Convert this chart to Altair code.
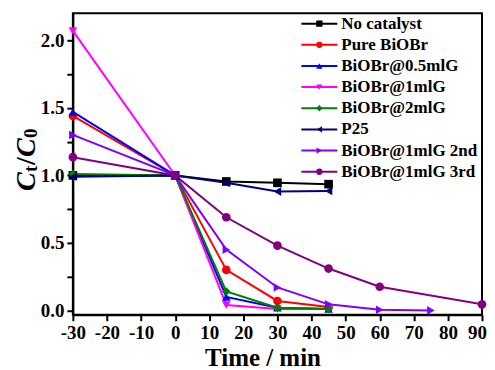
import altair as alt
import pandas as pd

series_names = ["No catalyst", "Pure BiOBr", "BiOBr@0.5mlG", "BiOBr@1mlG",
                "BiOBr@2mlG", "P25", "BiOBr@1mlG 2nd", "BiOBr@1mlG 3rd"]
series_colors = ["#000000", "#FF0000", "#0000FF", "#FF00FF",
                 "#008000", "#000080", "#8000FF", "#800080"]
series_shapes = ["square", "circle", "triangle-up", "triangle-down",
                 "diamond", "triangle-left", "triangle-right", "circle"]

t_short = [-30, 0, 15, 30, 45]
no_catalyst = [1.00, 1.00, 0.955, 0.945, 0.935]
pure_biobr = [1.44, 1.00, 0.30, 0.07, 0.025]
biobr_05 = [1.47, 1.00, 0.10, 0.02, 0.01]
biobr_1 = [2.07, 1.00, 0.04, 0.01, 0.01]
biobr_2 = [1.01, 1.00, 0.14, 0.02, 0.01]
p25 = [0.99, 1.00, 0.945, 0.88, 0.885]
t_2nd = [-30, 0, 15, 30, 45, 60, 75]
biobr_1_2nd = [1.30, 1.00, 0.45, 0.17, 0.045, 0.005, 0.0]
t_3rd = [-30, 0, 15, 30, 45, 60, 90]
biobr_1_3rd = [1.135, 1.00, 0.69, 0.48, 0.31, 0.175, 0.045]

x_ticks = [-30, -20, -10, 0, 10, 20, 30, 40, 50, 60, 70, 80, 90]
y_ticks = [0.0, 0.25, 0.5, 0.75, 1.0, 1.25, 1.5, 1.75, 2.0]

series_data = [
    (t_short, no_catalyst), (t_short, pure_biobr), (t_short, biobr_05),
    (t_short, biobr_1), (t_short, biobr_2), (t_short, p25),
    (t_2nd, biobr_1_2nd), (t_3rd, biobr_1_3rd),
]
rows = []
for k, (name, (ts, vs)) in enumerate(zip(series_names, series_data)):
    for t, v in zip(ts, vs):
        rows.append({"series": name, "order": k, "time": t, "ct": v})
df = pd.DataFrame(rows)

leg = pd.DataFrame({"series": series_names, "idx": list(range(len(series_names)))})

FONT = "Liberation Serif"
color_scale = alt.Scale(domain=series_names, range=series_colors)
shape_scale = alt.Scale(domain=series_names, range=series_shapes)

x_enc = alt.X("time:Q", scale=alt.Scale(domain=[-30, 90], nice=False),
              axis=alt.Axis(values=x_ticks, labelExpr="'' + datum.value",
                            labelOverlap=False, labelFlush=False, labelSeparation=0,
                            labelOffset={"condition": {"test": "datum.value == 90", "value": -5},
                                         "value": 0},
                            title="Time / min", titleFontSize=25, titleFont=FONT,
                            titleFontWeight="bold", titleX=190, titleY=51,
                            titleBaseline="alphabetic", grid=False))
y_enc = alt.Y("ct:Q", scale=alt.Scale(domain=[-0.032, 2.2], nice=False, zero=False),
              axis=alt.Axis(values=y_ticks, format=".1f", labelOverlap=False,
                            labelExpr="(datum.value * 2) % 1 == 0 ? datum.label : ''",
                            title=None, grid=False))

base = alt.Chart(df)
lines = base.mark_line(strokeWidth=2).encode(
    x=x_enc, y=y_enc,
    color=alt.Color("series:N", scale=color_scale, legend=None),
    detail="series:N",
    order="time:Q",
)
points = base.mark_point(filled=True, opacity=1, size=75).encode(
    x=x_enc, y=y_enc,
    color=alt.Color("series:N", scale=color_scale, legend=None),
    shape=alt.Shape("series:N", scale=shape_scale, legend=None),
)

lb = alt.Chart(leg).transform_calculate(ly="10.3 + 21.2 * datum.idx")
leg_rule = lb.mark_rule(strokeWidth=2).encode(
    x=alt.value(229), x2=alt.value(265),
    y=alt.Y("ly:Q", scale=None),
    color=alt.Color("series:N", scale=color_scale, legend=None),
)
leg_pt = lb.mark_point(filled=True, opacity=1, size=40).encode(
    x=alt.value(247),
    y=alt.Y("ly:Q", scale=None),
    color=alt.Color("series:N", scale=color_scale, legend=None),
    shape=alt.Shape("series:N", scale=shape_scale, legend=None),
)
leg_txt = lb.mark_text(align="left", baseline="middle", font=FONT,
                       fontWeight="bold", fontSize=17, color="black").encode(
    x=alt.value(269),
    y=alt.Y("ly:Q", scale=None),
    text="series:N",
)

def tpiece(txt, x, y, size, italic):
    return alt.Chart(pd.DataFrame({"t": [txt]})).mark_text(
        angle=270, align="left", baseline="alphabetic", font=FONT,
        fontWeight="bold", fontStyle="italic" if italic else "normal",
        fontSize=size, color="black").encode(
        x=alt.value(x), y=alt.value(y), text="t:N")

ytitle = [
    tpiece("C", -38, 178, 28, True),
    tpiece("t", -36, 159, 19, False),
    tpiece("/", -38, 152, 28, False),
    tpiece("C", -38, 144, 28, True),
    tpiece("0", -36, 125, 19, False),
]

chart = alt.layer(lines, points, leg_rule, leg_pt, leg_txt, *ytitle).properties(
    width=410, height=302,
    autosize=alt.AutoSizeParams(type="none"),
    padding={"left": 65, "top": 5, "right": 5, "bottom": 56},
).configure_view(stroke="black", strokeWidth=2).configure_axis(
    labelFont=FONT, labelFontWeight="bold", labelFontSize=19, labelColor="black",
    domainColor="black", domainWidth=2, tickColor="black", tickWidth=2,
    tickSize=6, labelPadding=3, labelOverlap=False,
)

chart.save("out.html", embed_options={"renderer": "svg", "actions": False})
